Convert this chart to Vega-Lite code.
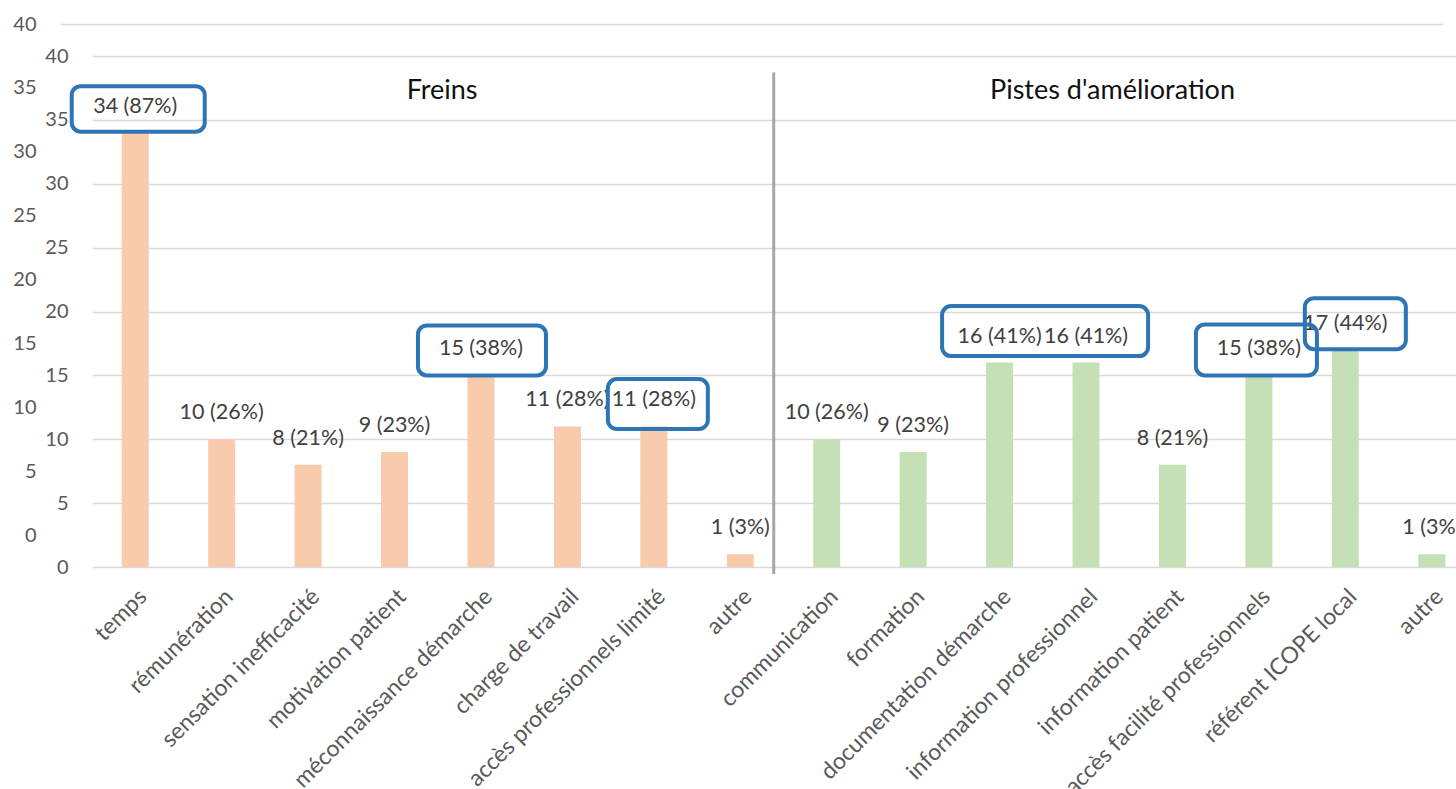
{
  "$schema": "https://vega.github.io/schema/vega-lite/v6.json",
  "width": 1364,
  "height": 511,
  "autosize": {"type": "none"},
  "padding": {"left": 92, "top": 56, "right": 0, "bottom": 222},
  "background": "white",
  "config": {"view": {"stroke": null}, "font": "Lato"},
  "data": {
    "values": [
      {"key": "temps", "group": "Freins", "n": 34, "label": "34 (87%)"},
      {"key": "rémunération", "group": "Freins", "n": 10, "label": "10 (26%)"},
      {"key": "sensation inefficacité", "group": "Freins", "n": 8, "label": "8 (21%)"},
      {"key": "motivation patient", "group": "Freins", "n": 9, "label": "9 (23%)"},
      {"key": "méconnaissance démarche", "group": "Freins", "n": 15, "label": "15 (38%)"},
      {"key": "charge de travail", "group": "Freins", "n": 11, "label": "11 (28%)"},
      {"key": "accès professionnels limité", "group": "Freins", "n": 11, "label": "11 (28%)"},
      {"key": "autre", "group": "Freins", "n": 1, "label": "1 (3%)"},
      {"key": "communication", "group": "Pistes", "n": 10, "label": "10 (26%)"},
      {"key": "formation", "group": "Pistes", "n": 9, "label": "9 (23%)"},
      {"key": "documentation démarche", "group": "Pistes", "n": 16, "label": "16 (41%)"},
      {"key": "information professionnel", "group": "Pistes", "n": 16, "label": "16 (41%)"},
      {"key": "information patient", "group": "Pistes", "n": 8, "label": "8 (21%)"},
      {"key": "accès facilité professionnels", "group": "Pistes", "n": 15, "label": "15 (38%)"},
      {"key": "référent ICOPE local", "group": "Pistes", "n": 17, "label": "17 (44%)"},
      {"key": "autre|2", "group": "Pistes", "n": 1, "label": "1 (3%)"}
    ]
  },
  "encoding": {
    "x": {
      "field": "key",
      "type": "nominal",
      "sort": null,
      "scale": {
        "domain": ["temps", "rémunération", "sensation inefficacité", "motivation patient", "méconnaissance démarche", "charge de travail", "accès professionnels limité", "autre", "communication", "formation", "documentation démarche", "information professionnel", "information patient", "accès facilité professionnels", "référent ICOPE local", "autre|2"],
        "range": [0, 1383]
      }
    }
  },
  "layer": [
    {
      "mark": {"type": "bar", "width": 27},
      "encoding": {
        "x": {
          "field": "key",
          "type": "nominal",
          "sort": null,
          "axis": {
            "title": null,
            "labelAngle": -45,
            "labelExpr": "split(datum.label, '|')[0]",
            "labelFontSize": 23,
            "labelFont": "Lato",
            "labelColor": "#595959",
            "labelPadding": 18,
            "labelLimit": 500,
            "labelOverlap": false,
            "ticks": false,
            "tickSize": 0,
            "domain": false
          }
        },
        "y": {
          "field": "n",
          "type": "quantitative",
          "scale": {"domain": [0, 40], "nice": false},
          "axis": {
            "title": null,
            "orient": "left",
            "values": [0, 5, 10, 15, 20, 25, 30, 35, 40],
            "grid": true,
            "gridColor": "#D9D9D9",
            "gridWidth": 1.5,
            "domain": false,
            "ticks": false,
            "tickSize": 0,
            "labelPadding": 24,
            "labelFontSize": 20,
            "labelFont": "Lato",
            "labelColor": "#595959"
          }
        },
        "color": {
          "field": "group",
          "type": "nominal",
          "scale": {"domain": ["Freins", "Pistes"], "range": ["#F8CBAD", "#C5E0B4"]},
          "legend": null
        }
      }
    },
    {
      "mark": {"type": "bar", "width": 27, "opacity": 0},
      "encoding": {
        "y": {
          "field": "n",
          "type": "quantitative",
          "axis": {
            "title": null,
            "orient": "left",
            "translate": -31.5,
            "values": [0, 5, 10, 15, 20, 25, 30, 35, 40],
            "grid": true,
            "gridColor": "#D9D9D9",
            "gridWidth": 1.5,
            "gridOpacity": {"condition": {"test": "datum.value === 40", "value": 1}, "value": 0},
            "domain": false,
            "ticks": false,
            "tickSize": 0,
            "labelPadding": 24,
            "labelFontSize": 20,
            "labelFont": "Lato",
            "labelColor": "#595959"
          }
        }
      }
    },
    {
      "mark": {"type": "text", "dy": -26, "fontSize": 21.5, "font": "Lato", "color": "#404040", "baseline": "middle", "align": "center"},
      "encoding": {
        "y": {"field": "n", "type": "quantitative", "axis": null},
        "text": {"field": "label"}
      }
    },
    {
      "transform": [{"filter": "datum.key === 'temps'"}],
      "mark": {"type": "bar", "width": 133, "xOffset": 3, "yOffset": -1, "y2Offset": -46.5, "fillOpacity": 0, "stroke": "#2E75B6", "strokeWidth": 4, "cornerRadius": 9},
      "encoding": {"y": {"field": "n", "type": "quantitative", "axis": null}, "y2": {"field": "n"}}
    },
    {
      "transform": [{"filter": "datum.key === 'méconnaissance démarche'"}],
      "mark": {"type": "bar", "width": 128, "xOffset": 1, "yOffset": 0, "y2Offset": -50, "fillOpacity": 0, "stroke": "#2E75B6", "strokeWidth": 4, "cornerRadius": 9},
      "encoding": {"y": {"field": "n", "type": "quantitative", "axis": null}, "y2": {"field": "n"}}
    },
    {
      "transform": [{"filter": "datum.key === 'accès professionnels limité'"}],
      "mark": {"type": "bar", "width": 100, "xOffset": 4, "yOffset": 2.6, "y2Offset": -47.4, "fillOpacity": 0, "stroke": "#2E75B6", "strokeWidth": 4, "cornerRadius": 9},
      "encoding": {"y": {"field": "n", "type": "quantitative", "axis": null}, "y2": {"field": "n"}}
    },
    {
      "transform": [{"filter": "datum.key === 'documentation démarche'"}],
      "mark": {"type": "bar", "width": 206, "xOffset": 45.5, "yOffset": -6.5, "y2Offset": -56.5, "fillOpacity": 0, "stroke": "#2E75B6", "strokeWidth": 4, "cornerRadius": 9},
      "encoding": {"y": {"field": "n", "type": "quantitative", "axis": null}, "y2": {"field": "n"}}
    },
    {
      "transform": [{"filter": "datum.key === 'référent ICOPE local'"}],
      "mark": {"type": "bar", "width": 101, "xOffset": 10, "yOffset": -0.7, "y2Offset": -51.7, "fillOpacity": 0, "stroke": "#2E75B6", "strokeWidth": 4, "cornerRadius": 9},
      "encoding": {"y": {"field": "n", "type": "quantitative", "axis": null}, "y2": {"field": "n"}}
    },
    {
      "transform": [{"filter": "datum.key === 'accès facilité professionnels'"}],
      "mark": {"type": "bar", "width": 121, "xOffset": -2.5, "yOffset": 0, "y2Offset": -51, "fillOpacity": 0, "stroke": "#2E75B6", "strokeWidth": 4, "cornerRadius": 9},
      "encoding": {"y": {"field": "n", "type": "quantitative", "axis": null}, "y2": {"field": "n"}}
    },
    {
      "data": {"values": [{}]},
      "mark": {"type": "rule", "color": "#A6A6A6", "strokeWidth": 3, "y2Offset": 7},
      "encoding": {
        "x": {"datum": "autre", "type": "nominal", "bandPosition": 0.93},
        "y": {"datum": 38.7, "type": "quantitative", "axis": null},
        "y2": {"datum": 0}
      }
    },
    {
      "data": {"values": [{}]},
      "mark": {"type": "text", "fontSize": 27, "font": "Lato", "color": "#111111", "baseline": "middle", "align": "center"},
      "encoding": {
        "x": {"datum": "méconnaissance démarche", "type": "nominal", "bandPosition": 0},
        "y": {"datum": 37.26, "type": "quantitative", "axis": null},
        "text": {"value": "Freins"}
      }
    },
    {
      "data": {"values": [{}]},
      "mark": {"type": "text", "fontSize": 27, "font": "Lato", "color": "#111111", "baseline": "middle", "align": "center"},
      "encoding": {
        "x": {"datum": "information professionnel", "type": "nominal", "bandPosition": 0.84},
        "y": {"datum": 37.26, "type": "quantitative", "axis": null},
        "text": {"value": "Pistes d'amélioration"}
      }
    }
  ],
  "resolve": {"axis": {"y": "independent"}}
}
